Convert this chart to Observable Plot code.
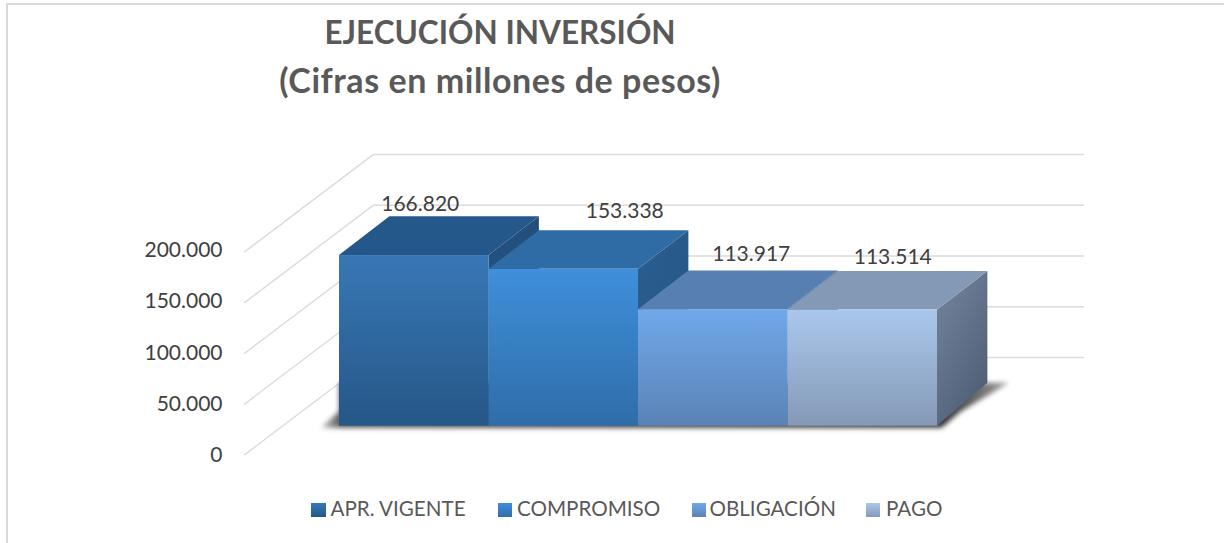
<!DOCTYPE html>
<html lang="es">
<head>
<meta charset="utf-8">
<script src="https://cdn.jsdelivr.net/npm/d3@7"></script>
<script src="https://cdn.jsdelivr.net/npm/@observablehq/plot@0.6"></script>
<style>
  html, body { margin: 0; padding: 0; background: #fff; }
  #page { position: relative; width: 1224px; height: 543px; overflow: hidden; font-family: Lato, "Open Sans", sans-serif; }
  #frame { position: absolute; left: 6px; top: 3px; right: -4px; bottom: -4px; border-left: 2px solid #d9d9d9; border-top: 2px solid #d9d9d9; }
  #title { position: absolute; left: 200px; width: 600px; top: 9px; text-align: center; color: #595959; font-weight: 700; font-size: 31.5px; line-height: 47px; }
  #title .sub { font-size: 34px; letter-spacing: 0.55px; }
  #chart { position: absolute; left: 0; top: 110px; }
  #legend span.item { position: absolute; top: 495.5px; height: 24px; line-height: 24px; color: #595959; font-size: 20.6px; white-space: nowrap; }
  #legend span.sw { position: absolute; top: 503px; width: 14.5px; height: 13.5px; }
</style>
</head>
<body>
<div id="page">
  <div id="frame"></div>
  <div id="title">EJECUCIÓN INVERSIÓN<br><span class="sub">(Cifras en millones de pesos)</span></div>
  <div id="chart"></div>
  <div id="legend"></div>
</div>
<script>
const categories = ["APR. VIGENTE", "COMPROMISO", "OBLIGACIÓN", "PAGO"];
const values = [166820, 153338, 113917, 113514];
const axisTicks = [0, 50000, 100000, 150000, 200000];

const frontTop = ["#3877b6", "#3f8fda", "#70a8ea", "#aac8ec"];
const frontBottom = ["#255787", "#2f6da8", "#5a83b6", "#8599b6"];
const topFace = ["#25588a", "#2f6ba5", "#5780b0", "#8399b5"];
const sideTop = ["#245280", "#2a5f92", "#4a6d98", "#75869f"];
const sideBottom = ["#1f4a75", "#265581", "#425f85", "#4e5f76"];

const fmt = d => d3.format(",")(d).replace(/,/g, ".");

// Oblique projection, expressed in the scales' own units (bar widths, pesos)
const depthU = 0.337, depthTop = 37800, depthBase = 42000;
const wallFrontU = -0.635, wallBackU = 0.225, wallRightU = 4.977;
const wallFloor = -27960, wallRise = 95100, wallStep = 0.992;

const defs = () => {
  const d = d3.create("svg:defs");
  values.forEach((_, i) => {
    const f = d.append("svg:linearGradient").attr("id", `front${i}`).attr("x1", 0).attr("x2", 0).attr("y1", 0).attr("y2", 1);
    f.append("svg:stop").attr("offset", 0).attr("stop-color", frontTop[i]);
    f.append("svg:stop").attr("offset", 1).attr("stop-color", frontBottom[i]);
    const s = d.append("svg:linearGradient").attr("id", `side${i}`).attr("x1", 0).attr("x2", 0.6).attr("y1", 0).attr("y2", 1);
    s.append("svg:stop").attr("offset", 0).attr("stop-color", sideTop[i]);
    s.append("svg:stop").attr("offset", 1).attr("stop-color", sideBottom[i]);
  });
  const sh = d.append("svg:linearGradient").attr("id", "shadow").attr("x1", 0).attr("x2", 1).attr("y1", 0).attr("y2", 0);
  [[0, "#c8c8c8"], [0.03, "#555555"], [0.9, "#2e2e2e"], [1, "#a0a0a0"]].forEach(([o, c]) =>
    sh.append("svg:stop").attr("offset", o).attr("stop-color", c)
  );
  return d.node();
};

const gridRows = axisTicks.flatMap(t => {
  const y = wallFloor + t * wallStep;
  return [
    {t, u: wallFrontU, v: y},
    {t, u: wallBackU, v: y + wallRise},
    {t, u: wallRightU, v: y + wallRise}
  ];
});

const shadowRows = [
  {v: -2000, u1: -0.12, u2: 4.03},
  {v: 14000, u1: 0, u2: 4.16},
  {v: depthBase, u1: 0, u2: 4.48}
];

const barMarks = values.flatMap((v, i) => {
  const sideRows = [
    {u: i + 1, v1: 0, v2: v},
    {u: i + 1 + depthU, v1: depthBase, v2: v + depthTop}
  ];
  const topRows = [
    {v, u1: i, u2: i + 1},
    {v: v + depthTop, u1: i + depthU, u2: i + 1 + depthU}
  ];
  return [
    Plot.areaY(sideRows, {x: "u", y1: "v1", y2: "v2", fill: `url(#side${i})`}),
    Plot.areaX(topRows, {y: "v", x1: "u1", x2: "u2", fill: topFace[i]}),
    Plot.rect([{u1: i, u2: i + 1, v1: 0, v2: v}], {x1: "u1", x2: "u2", y1: "v1", y2: "v2", fill: `url(#front${i})`})
  ];
});

const labelNudge = [[6, -51], [61, -58], [38, -55], [30, -53]];
const labelMarks = values.map((v, i) =>
  Plot.text([{u: i + 0.5, v}], {
    x: "u", y: "v", text: d => fmt(d.v),
    dx: labelNudge[i][0], dy: labelNudge[i][1],
    fill: "#404040", fontSize: 21, fontFamily: "Lato"
  })
);

const plot = Plot.plot({
  width: 1224,
  height: 370,
  marginLeft: 245,
  marginRight: 141,
  marginTop: 0,
  marginBottom: 0,
  style: {fontFamily: "Lato", fontSize: "21px", background: "transparent", overflow: "visible"},
  x: {domain: [0, 4], range: [339, 937], axis: null},
  y: {domain: [0, 200000], range: [315.7, 111.1], label: null},
  marks: [
    defs,
    Plot.line(gridRows, {x: "u", y: "v", z: "t", stroke: "#dcdcdc", strokeWidth: 1.5}),
    Plot.axisY({ticks: axisTicks, tickFormat: fmt, tickSize: 0, tickPadding: 23, dy: 29, fill: "#404040", fontSize: 21, label: null}),
    Plot.areaX(shadowRows, {y: "v", x1: "u1", x2: "u2", fill: "url(#shadow)", imageFilter: "blur(2.5px)"}),
    ...barMarks,
    ...labelMarks
  ]
});
document.getElementById("chart").append(plot);

const legendLeft = [[311, 330.5], [497.5, 517], [691.5, 709.5], [865.5, 886]];
const legend = document.getElementById("legend");
categories.forEach((c, i) => {
  const sw = document.createElement("span");
  sw.className = "sw";
  sw.style.left = legendLeft[i][0] + "px";
  sw.style.background = `linear-gradient(${frontTop[i]}, ${frontBottom[i]})`;
  const t = document.createElement("span");
  t.className = "item";
  t.style.left = legendLeft[i][1] + "px";
  t.textContent = c;
  legend.append(sw, t);
});
</script>
</body>
</html>
